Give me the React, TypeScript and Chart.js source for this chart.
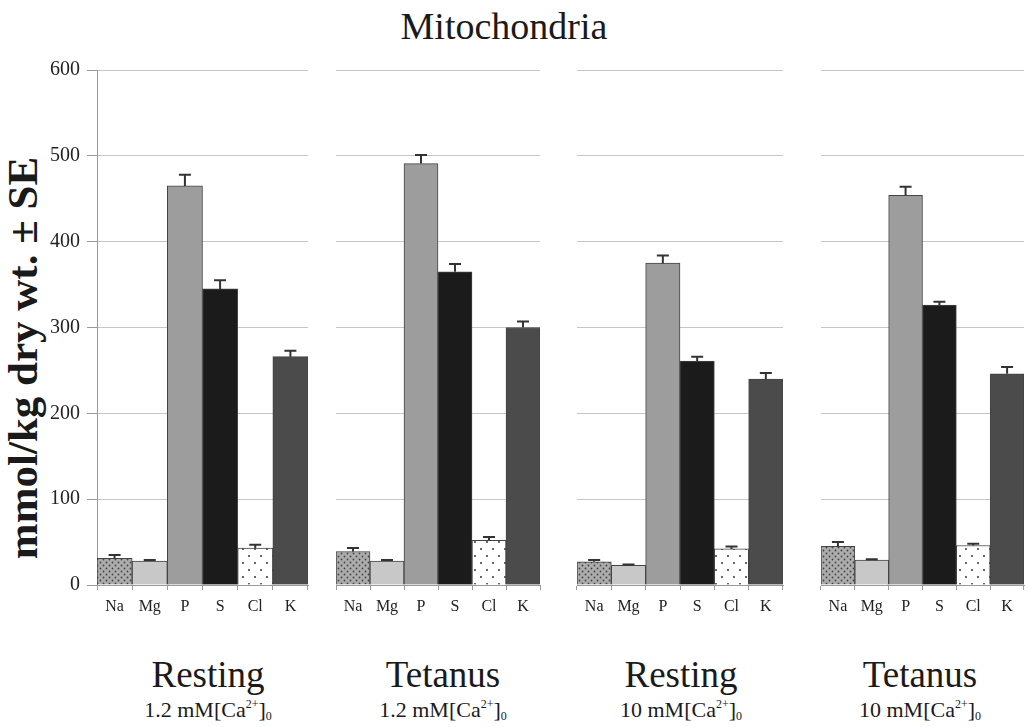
import React, { useEffect, useRef } from 'react';
import { Chart, registerables } from 'chart.js';

Chart.register(...registerables);

// ---- data ----
const elements = ['Na', 'Mg', 'P', 'S', 'Cl', 'K'];
const restingLowCa = [31, 28, 465, 345, 43, 266];
const restingLowCaSE = [4, 1, 13, 10, 4, 7];
const tetanusLowCa = [39, 28, 491, 365, 52, 300];
const tetanusLowCaSE = [4, 1, 10, 9, 4, 7];
const restingHighCa = [27, 23, 375, 261, 42, 240];
const restingHighCaSE = [2, 1, 9, 5, 3, 7];
const tetanusHighCa = [45, 29, 454, 326, 46, 246];
const tetanusHighCaSE = [5, 1, 10, 4, 2, 8];
const yMin = 0;
const yMax = 600;
const yStep = 100;
const conditionLabels = ['Resting', 'Tetanus', 'Resting', 'Tetanus'];
const calciumLabels = ['1.2', '1.2', '10', '10'];
const chartTitle = 'Mitochondria';
const yAxisTitle = 'mmol/kg dry wt. ± SE';

const SERIF = "'Liberation Serif', 'Times New Roman', serif";

function makePattern(w: number, h: number, bg: string, dot: string, dots: number[][], r: number) {
  const c = document.createElement('canvas');
  c.width = w;
  c.height = h;
  const g = c.getContext('2d')!;
  g.fillStyle = bg;
  g.fillRect(0, 0, w, h);
  g.fillStyle = dot;
  dots.forEach(([x, y]) => {
    g.beginPath();
    g.arc(x, y, r, 0, Math.PI * 2);
    g.fill();
  });
  const p = g.createPattern(c, 'repeat');
  return p || bg;
}

const errorBarPlugin = {
  id: 'errorBars',
  afterDatasetsDraw(chart: any, _args: any, opts: any) {
    const se: number[] = opts.se || [];
    const data = chart.data.datasets[0].data as number[];
    const meta = chart.getDatasetMeta(0);
    const y = chart.scales.y;
    const ctx = chart.ctx;
    ctx.save();
    ctx.strokeStyle = '#333333';
    ctx.lineWidth = 2;
    meta.data.forEach((bar: any, i: number) => {
      const top = y.getPixelForValue(data[i] + se[i]);
      const x = bar.x;
      ctx.beginPath();
      ctx.moveTo(x, bar.y);
      ctx.lineTo(x, top);
      ctx.moveTo(x - 6, top);
      ctx.lineTo(x + 6, top);
      ctx.stroke();
    });
    ctx.restore();
  },
};

type PanelProps = {
  values: number[];
  se: number[];
  areaLeft: number;
  areaRight: number;
  showYAxis: boolean;
};

const CANVAS_H = 640;
const AREA_TOP = 70;
const AREA_BOTTOM = 585;

function Panel({ values, se, areaLeft, areaRight, showYAxis }: PanelProps) {
  const ref = useRef<HTMLCanvasElement | null>(null);
  const yAxisW = showYAxis ? areaLeft : 0;
  const padL = showYAxis ? 0 : 2;
  const padR = 2;
  const canvasLeft = showYAxis ? 0 : areaLeft - padL;
  const canvasW = areaRight - canvasLeft + padR;

  useEffect(() => {
    if (!ref.current) return;
    const naFill = makePattern(6, 6, '#acacac', '#454545', [[1.5, 1.5], [4.5, 4.5]], 0.9);
    const clFill = makePattern(12, 14, '#ffffff', '#222222', [[3, 3], [9, 10]], 0.9);
    const colors = [naFill, '#c8c8c8', '#9d9d9d', '#1b1b1b', clFill, '#4b4b4b'];
    const chart = new Chart(ref.current, {
      type: 'bar',
      data: {
        labels: elements,
        datasets: [
          {
            data: values,
            backgroundColor: colors as any,
            borderColor: '#444444',
            borderWidth: 1,
            barPercentage: 1,
            categoryPercentage: 1,
          },
        ],
      },
      options: {
        responsive: false,
        animation: false,
        devicePixelRatio: 1,
        layout: { padding: { top: AREA_TOP, bottom: 0, left: padL, right: padR } },
        plugins: {
          legend: { display: false },
          tooltip: { enabled: false },
          title: { display: false },
          errorBars: { se },
        } as any,
        scales: {
          x: {
            offset: true,
            grid: {
              display: true,
              offset: true,
              drawOnChartArea: false,
              tickLength: 5,
              color: '#9a9a9a',
            },
            border: { display: true, color: '#9a9a9a' },
            ticks: {
              color: '#222222',
              font: { family: SERIF, size: 16 },
              padding: 7,
              maxRotation: 0,
              autoSkip: false,
            },
            afterFit: (s: any) => {
              s.height = CANVAS_H - AREA_BOTTOM;
            },
          },
          y: {
            min: yMin,
            max: yMax,
            ticks: {
              stepSize: yStep,
              display: showYAxis,
              color: '#222222',
              font: { family: SERIF, size: 20 },
              padding: 7,
            },
            grid: {
              color: '#c6c6c6',
              lineWidth: 1,
              drawTicks: showYAxis,
              tickLength: 10,
              tickColor: '#9a9a9a',
            },
            border: { display: showYAxis, color: '#9a9a9a' },
            afterFit: (s: any) => {
              s.width = yAxisW;
            },
          },
        },
      },
      plugins: [errorBarPlugin as any],
    });
    return () => chart.destroy();
  }, []);

  return (
    <canvas
      ref={ref}
      width={canvasW}
      height={CANVAS_H}
      style={{ position: 'absolute', left: canvasLeft, top: 0, width: canvasW, height: CANVAS_H }}
    />
  );
}

const panels = [
  { values: restingLowCa, se: restingLowCaSE, left: 97, right: 308, labelX: 208 },
  { values: tetanusLowCa, se: tetanusLowCaSE, left: 336, right: 540, labelX: 443 },
  { values: restingHighCa, se: restingHighCaSE, left: 577, right: 783, labelX: 681 },
  { values: tetanusHighCa, se: tetanusHighCaSE, left: 821, right: 1024, labelX: 920 },
];

export default function App() {
  return (
    <div
      style={{
        position: 'fixed',
        left: 0,
        top: 0,
        width: 1025,
        height: 727,
        background: '#ffffff',
        overflow: 'hidden',
        fontFamily: SERIF,
        color: '#1a1a1a',
      }}
    >
      <div
        style={{
          position: 'absolute',
          left: 504,
          top: 7,
          transform: 'translateX(-50%)',
          fontSize: 38,
          lineHeight: '38px',
          whiteSpace: 'nowrap',
        }}
      >
        {chartTitle}
      </div>
      <div
        style={{
          position: 'absolute',
          left: 21.5,
          top: 358,
          transform: 'translate(-50%, -50%) rotate(-90deg)',
          fontSize: 43,
          lineHeight: '43px',
          fontWeight: 'bold',
          whiteSpace: 'nowrap',
        }}
      >
        {yAxisTitle}
      </div>
      {panels.map((p, i) => (
        <Panel
          key={i}
          values={p.values}
          se={p.se}
          areaLeft={p.left}
          areaRight={p.right}
          showYAxis={i === 0}
        />
      ))}
      {panels.map((p, i) => (
        <div key={'l' + i}>
          <div
            style={{
              position: 'absolute',
              left: p.labelX,
              top: 656,
              transform: 'translateX(-50%)',
              fontSize: 37,
              lineHeight: '37px',
              whiteSpace: 'nowrap',
            }}
          >
            {conditionLabels[i]}
          </div>
          <div
            style={{
              position: 'absolute',
              left: p.labelX,
              top: 699,
              transform: 'translateX(-50%)',
              fontSize: 22,
              lineHeight: '22px',
              whiteSpace: 'nowrap',
            }}
          >
            {calciumLabels[i]} mM[Ca
            <span style={{ fontSize: 12, position: 'relative', top: -9 }}>2+</span>]
            <span style={{ fontSize: 12, position: 'relative', top: 3 }}>0</span>
          </div>
        </div>
      ))}
    </div>
  );
}
